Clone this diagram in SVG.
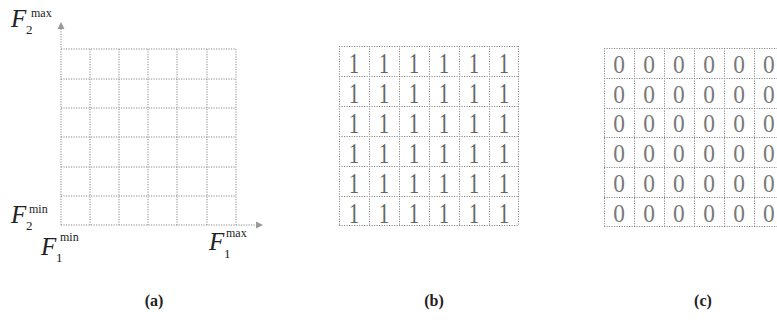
<svg xmlns="http://www.w3.org/2000/svg" width="777" height="320" viewBox="0 0 777 320">
<style>
.g{stroke:#8a8a8a;stroke-width:1;stroke-dasharray:1.2 1.3;fill:none}
.ax{stroke:#8a8a8a;stroke-width:1;stroke-dasharray:1.2 1.3;fill:none}
.F{font-family:"Liberation Serif",serif;font-style:italic;font-size:25px;fill:#222}
.sub{font-family:"Liberation Serif",serif;font-size:13px;fill:#222}
.sup{font-family:"Liberation Serif",serif;font-size:12px;fill:#222}
.one{font-family:"Liberation Serif",serif;font-size:29px;fill:#666;text-anchor:middle}
.zero{font-family:"Liberation Serif",serif;font-size:26px;fill:#7a7a7a;text-anchor:middle}
.cap{font-family:"Liberation Serif",serif;font-weight:bold;font-size:16px;fill:#222;text-anchor:middle}
</style>
<defs>
<pattern id="gb" x="339" y="46" width="30" height="30" patternUnits="userSpaceOnUse">
<path class="g" d="M0.5 0V30M0 0.5H30"/>
</pattern>
</defs>
<rect width="777" height="320" fill="#fff"/>

<g id="panel-a">
<g id="grid-a">
<path class="g" d="M90 49V225M119 49V225M148 49V225M177 49V225M207 49V225M236 49V225"/>
<path class="g" d="M61 49H236M61 79H236M61 108H236M61 137H236M61 167H236M61 196H236"/>
</g>
<g id="connectors">
<path class="ax" d="M61 225V29"/>
<path class="ax" d="M61 225H256"/>
<polygon points="61,22 57.5,29 64.5,29" fill="#999"/>
<polygon points="263,225 256,221.5 256,228.5" fill="#999"/>
</g>
<g id="label-f2max"><text class="F" x="11" y="27">F</text><text class="sub" x="26" y="34">2</text><text class="sup" x="31" y="17">max</text></g>
<g id="label-f2min"><text class="F" x="11" y="223">F</text><text class="sub" x="26" y="230">2</text><text class="sup" x="29" y="213">min</text></g>
<g id="label-f1min"><text class="F" x="41" y="255">F</text><text class="sub" x="56" y="262">1</text><text class="sup" x="60" y="241">min</text></g>
<g id="label-f1max"><text class="F" x="209" y="250">F</text><text class="sub" x="224" y="258">1</text><text class="sup" x="226" y="237">max</text></g>
<text class="cap" x="154" y="306">(a)</text>
</g>

<g id="panel-b">
<rect x="339" y="46" width="180" height="180" fill="url(#gb)"/>
<path class="g" d="M518.5 46V226M339 225.5H519"/>
<g id="ones" transform="scale(0.72 1)">
<text class="one" x="491.7" y="73">1</text><text class="one" x="533.3" y="73">1</text><text class="one" x="575" y="73">1</text><text class="one" x="616.7" y="73">1</text><text class="one" x="658.3" y="73">1</text><text class="one" x="700" y="73">1</text>
<text class="one" x="491.7" y="103">1</text><text class="one" x="533.3" y="103">1</text><text class="one" x="575" y="103">1</text><text class="one" x="616.7" y="103">1</text><text class="one" x="658.3" y="103">1</text><text class="one" x="700" y="103">1</text>
<text class="one" x="491.7" y="133">1</text><text class="one" x="533.3" y="133">1</text><text class="one" x="575" y="133">1</text><text class="one" x="616.7" y="133">1</text><text class="one" x="658.3" y="133">1</text><text class="one" x="700" y="133">1</text>
<text class="one" x="491.7" y="163">1</text><text class="one" x="533.3" y="163">1</text><text class="one" x="575" y="163">1</text><text class="one" x="616.7" y="163">1</text><text class="one" x="658.3" y="163">1</text><text class="one" x="700" y="163">1</text>
<text class="one" x="491.7" y="193">1</text><text class="one" x="533.3" y="193">1</text><text class="one" x="575" y="193">1</text><text class="one" x="616.7" y="193">1</text><text class="one" x="658.3" y="193">1</text><text class="one" x="700" y="193">1</text>
<text class="one" x="491.7" y="223">1</text><text class="one" x="533.3" y="223">1</text><text class="one" x="575" y="223">1</text><text class="one" x="616.7" y="223">1</text><text class="one" x="658.3" y="223">1</text><text class="one" x="700" y="223">1</text>
</g>
<text class="cap" x="434" y="306">(b)</text>
</g>

<g id="panel-c">
<path class="g" d="M604.5 48V227M634.5 48V227M664.5 48V227M694.5 48V227M724.5 48V227M754.5 48V227"/>
<path class="g" d="M604 48.5H777M604 78.5H777M604 108.5H777M604 137.5H777M604 167.5H777M604 197.5H777M604 226.5H777"/>
<g id="zeros" transform="scale(0.9 1)">
<text class="zero" x="687.8" y="73">0</text><text class="zero" x="721.1" y="73">0</text><text class="zero" x="754.4" y="73">0</text><text class="zero" x="787.8" y="73">0</text><text class="zero" x="821.1" y="73">0</text><text class="zero" x="854.4" y="73">0</text>
<text class="zero" x="687.8" y="103">0</text><text class="zero" x="721.1" y="103">0</text><text class="zero" x="754.4" y="103">0</text><text class="zero" x="787.8" y="103">0</text><text class="zero" x="821.1" y="103">0</text><text class="zero" x="854.4" y="103">0</text>
<text class="zero" x="687.8" y="132">0</text><text class="zero" x="721.1" y="132">0</text><text class="zero" x="754.4" y="132">0</text><text class="zero" x="787.8" y="132">0</text><text class="zero" x="821.1" y="132">0</text><text class="zero" x="854.4" y="132">0</text>
<text class="zero" x="687.8" y="162">0</text><text class="zero" x="721.1" y="162">0</text><text class="zero" x="754.4" y="162">0</text><text class="zero" x="787.8" y="162">0</text><text class="zero" x="821.1" y="162">0</text><text class="zero" x="854.4" y="162">0</text>
<text class="zero" x="687.8" y="192">0</text><text class="zero" x="721.1" y="192">0</text><text class="zero" x="754.4" y="192">0</text><text class="zero" x="787.8" y="192">0</text><text class="zero" x="821.1" y="192">0</text><text class="zero" x="854.4" y="192">0</text>
<text class="zero" x="687.8" y="222">0</text><text class="zero" x="721.1" y="222">0</text><text class="zero" x="754.4" y="222">0</text><text class="zero" x="787.8" y="222">0</text><text class="zero" x="821.1" y="222">0</text><text class="zero" x="854.4" y="222">0</text>
</g>
<text class="cap" x="703" y="306">(c)</text>
</g>
</svg>
